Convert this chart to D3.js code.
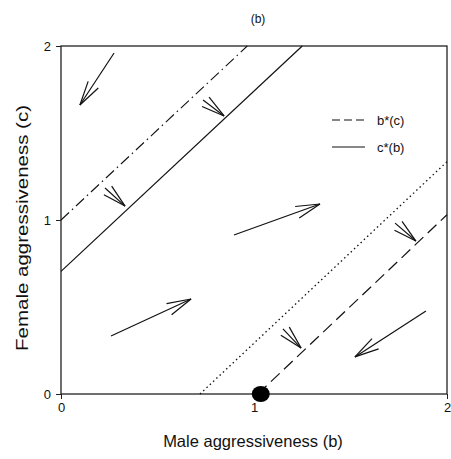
<!DOCTYPE html>
<html>
<head>
<meta charset="utf-8">
<script src="https://cdn.jsdelivr.net/npm/d3@7"></script>
<style>
  body { margin: 0; background: #fff; }
  svg { font-family: "Liberation Sans", Arial, sans-serif; }
</style>
</head>
<body>
<svg width="451" height="459"></svg>
<script>
// axis ticks
let xTicks = [0, 1, 2];
let yTicks = [0, 1, 2];

// lines in (b, c) space
let cStarLine = [[0, 0.705], [1.25, 2]];       // c*(b), solid
let dashDotLine = [[0, 1.0], [0.965, 2]];      // dash-dot
let dottedLine = [[0.72, 0], [2, 1.335]];      // dotted
let bStarLine = [[1.02, 0], [2, 1.03]];        // b*(c), dashed

let equilibrium = [1.035, 0];

// vector field arrows [b0, c0, b1, c1]
let fieldArrows = [
	[0.275, 1.960, 0.098, 1.661],
	[0.259, 0.333, 0.674, 0.546],
	[0.896, 0.914, 1.342, 1.092],
	[1.891, 0.477, 1.523, 0.213]
];

// short arrows toward the lines
let shiftArrows = [
	[0.228, 1.184, 0.332, 1.080],
	[0.736, 1.690, 0.845, 1.598],
	[1.150, 0.374, 1.244, 0.264],
	[1.731, 0.982, 1.839, 0.879]
];

let legendItems = [
	{ label: 'b*(c)', dash: '8,4' },
	{ label: 'c*(b)', dash: null }
];

let svg = d3.select('svg');

let mLeft = 61, mRight = 447, mTop = 46, mBottom = 394;

let x = d3.scaleLinear().domain([0, 2]).range([mLeft, mRight]);
let y = d3.scaleLinear().domain([0, 2]).range([mBottom, mTop]);

let chart = svg.append('g');

// frame
chart.append('rect')
	.attr('x', mLeft)
	.attr('y', mTop)
	.attr('width', mRight - mLeft)
	.attr('height', mBottom - mTop)
	.attr('fill', 'none')
	.attr('stroke', '#222')
	.attr('stroke-width', 1.3);

let xAxis = d3.axisBottom(x).tickValues(xTicks).tickSize(5).tickPadding(4).tickFormat(d3.format('d'));
let yAxis = d3.axisLeft(y).tickValues(yTicks).tickSize(5).tickPadding(5).tickFormat(d3.format('d'));

let gx = chart.append('g')
	.attr('transform', 'translate(0, ' + mBottom + ')')
	.call(xAxis);
let gy = chart.append('g')
	.attr('transform', 'translate(' + mLeft + ', 0)')
	.call(yAxis);

[gx, gy].forEach(function(g) {
	g.select('.domain').remove();
	g.selectAll('line').attr('stroke', '#222');
	g.selectAll('text')
		.attr('fill', '#111')
		.style('font-size', '13px')
		.style('font-family', '"Liberation Sans", Arial, sans-serif');
});

let line = d3.line()
	.x(d => x(d[0]))
	.y(d => y(d[1]));

function drawLine(data, dash, width) {
	chart.append('path')
		.datum(data)
		.attr('fill', 'none')
		.attr('stroke', '#111')
		.attr('stroke-width', width)
		.attr('stroke-dasharray', dash)
		.attr('d', line);
}

drawLine(cStarLine, null, 1.2);
drawLine(dashDotLine, '11,4,1.5,4', 1.1);
drawLine(dottedLine, '1.5,3', 1.3);
drawLine(bStarLine, '12,6', 1.2);

// arrows
function drawArrow(a, headLen) {
	let x0 = x(a[0]), y0 = y(a[1]), x1 = x(a[2]), y1 = y(a[3]);
	let ang = Math.atan2(y0 - y1, x0 - x1);
	let spread = 14 * Math.PI / 180;
	let g = chart.append('g')
		.attr('stroke', '#111')
		.attr('stroke-width', 1.2)
		.attr('fill', 'none');
	g.append('line')
		.attr('x1', x0).attr('y1', y0)
		.attr('x2', x1).attr('y2', y1);
	[-spread, spread].forEach(function(s) {
		g.append('line')
			.attr('x1', x1).attr('y1', y1)
			.attr('x2', x1 + headLen * Math.cos(ang + s))
			.attr('y2', y1 + headLen * Math.sin(ang + s));
	});
}

fieldArrows.forEach(a => drawArrow(a, 25));
shiftArrows.forEach(a => drawArrow(a, 24));

// equilibrium point
chart.append('ellipse')
	.attr('cx', x(equilibrium[0]))
	.attr('cy', y(equilibrium[1]))
	.attr('rx', 9)
	.attr('ry', 8)
	.attr('fill', '#000');

// legend
let legend = chart.append('g');
legendItems.forEach(function(item, i) {
	let ly = 120 + i * 27;
	legend.append('line')
		.attr('x1', 332).attr('x2', 365)
		.attr('y1', ly).attr('y2', ly)
		.attr('stroke', '#111')
		.attr('stroke-width', 1.2)
		.attr('stroke-dasharray', item.dash);
	legend.append('text')
		.attr('x', 377)
		.attr('y', ly + 4.5)
		.style('font-size', '13px')
		.attr('fill', '#111')
		.text(item.label);
});

// titles
svg.append('text')
	.attr('x', 258)
	.attr('y', 23)
	.attr('text-anchor', 'middle')
	.attr('fill', '#111')
	.style('font-size', '12px')
	.text('(b)');

svg.append('text')
	.attr('x', 253)
	.attr('y', 447)
	.attr('text-anchor', 'middle')
	.attr('fill', '#111')
	.style('font-size', '16.5px')
	.text('Male aggressiveness (b)');

svg.append('text')
	.attr('transform', 'translate(28, 228) rotate(-90)')
	.attr('text-anchor', 'middle')
	.attr('fill', '#111')
	.attr('textLength', 246)
	.attr('lengthAdjust', 'spacingAndGlyphs')
	.style('font-size', '16px')
	.text('Female aggressiveness (c)');
</script>
</body>
</html>
